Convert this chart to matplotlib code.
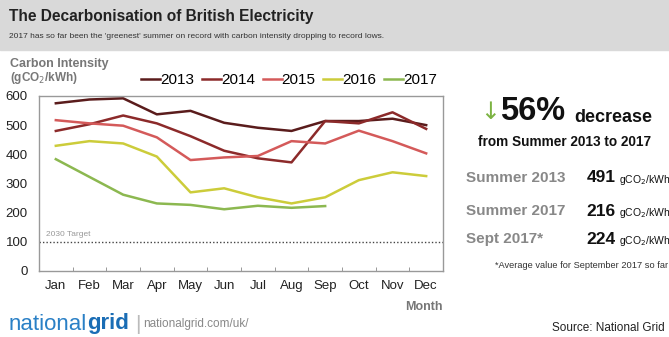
import numpy as np
import matplotlib.pyplot as plt

plt.rcParams['font.family'] = ['Liberation Sans', 'DejaVu Sans']

months = ['Jan', 'Feb', 'Mar', 'Apr', 'May', 'Jun', 'Jul', 'Aug', 'Sep', 'Oct', 'Nov', 'Dec']
years = ['2013', '2014', '2015', '2016', '2017']
y2013 = [575, 588, 592, 537, 549, 508, 491, 480, 514, 514, 522, 500]
y2014 = [480, 503, 533, 506, 462, 412, 386, 372, 514, 506, 544, 487]
y2015 = [517, 506, 498, 458, 380, 389, 394, 445, 437, 481, 445, 403]
y2016 = [429, 445, 437, 392, 269, 283, 252, 231, 252, 311, 338, 325]
y2017 = [383, 322, 261, 231, 226, 211, 223, 216, 222]
colors = ['#5a1c1c', '#8c2a2a', '#d45a5a', '#cccc3a', '#8cb850']
target = 100

stats_labels = ['Summer 2013', 'Summer 2017', 'Sept 2017*']
stats_values = ['491', '216', '224']

fig = plt.figure(figsize=(6.69, 3.37), dpi=100)
fig.patches.append(plt.Rectangle((0, 1 - 50 / 337), 1, 50 / 337, transform=fig.transFigure,
                                 color='#d9d9d9', zorder=0))
fig.text(0.014, 0.952, 'The Decarbonisation of British Electricity', fontsize=11.2, fontweight='bold',
         color='#222222', va='center')
fig.text(0.014, 0.893, "2017 has so far been the 'greenest' summer on record with carbon intensity dropping to record lows.",
         fontsize=6.0, color='#333333', va='center')

ax = fig.add_axes([39 / 669, 1 - 270.7 / 337, 404 / 669, 174.7 / 337])
x = np.arange(len(months))
series = [y2013, y2014, y2015, y2016, y2017]
for yr, vals, c in zip(years, series, colors):
    ax.plot(x[:len(vals)], vals, color=c, lw=1.8, label=yr)
ax.axhline(target, color='#444444', lw=1, ls=(0, (1, 1.5)))
ax.text(-0.3, target + 12, '2030 Target', fontsize=6, color='#999999', va='bottom')

ax.set_xlim(-0.5, 11.5)
ax.set_ylim(0, 600)
ax.set_xticks(x)
ax.set_xticklabels(months, fontsize=9.5, color='#222222')
ax.set_xticks(np.arange(-0.5, 12, 1), minor=True)
ax.tick_params(axis='x', which='major', length=0, pad=7)
ax.tick_params(axis='x', which='minor', length=3, direction='in', color='#888888')
ax.set_yticks(range(0, 601, 100))
ax.set_yticklabels([str(v) for v in range(0, 601, 100)], fontsize=9.5, color='#222222')
ax.tick_params(axis='y', length=0, pad=8)
for s in ax.spines.values():
    s.set_color('#999999')
    s.set_linewidth(1)

fig.text(0.015, 1 - 64 / 337, 'Carbon Intensity', fontsize=9, fontweight='bold', color='#777777', va='center')
fig.text(0.015, 1 - 78 / 337, '(gCO$_2$/kWh)', fontsize=8.5, fontweight='bold', color='#777777', va='center')
fig.legend(loc='center', bbox_to_anchor=(0.432, 1 - 80 / 337), ncol=5, frameon=False, fontsize=11,
           handlelength=1.25, handletextpad=0.0, columnspacing=0.5)
fig.text(443 / 669, 1 - 307 / 337, 'Month', fontsize=9, fontweight='bold', color='#777777',
         ha='right', va='center')

t1 = fig.text(0.013, 1 - 324 / 337, 'national', fontsize=16, color='#2a80c6', va='center')
fig.canvas.draw()
bb = t1.get_window_extent()
fig.text(bb.x1 / fig.bbox.width, 1 - 324 / 337, 'grid', fontsize=16, color='#1a6db5', fontweight='bold',
         va='center')
fig.text(0.202, 1 - 324 / 337, '|', fontsize=15, color='#bbbbbb', va='center')
fig.text(0.214, 1 - 324 / 337, 'nationalgrid.com/uk/', fontsize=8.5, color='#888888', va='center')
fig.text(0.994, 1 - 328 / 337, 'Source: National Grid', fontsize=8.5, color='#222222', va='center',
         ha='right')

# right panel
fig.text(0.748, 1 - 112 / 337, '\u2193', fontsize=17, color='#7cb342', va='center', ha='right',
         family=['DejaVu Sans'])
fig.text(0.748, 1 - 112 / 337, '56%', fontsize=23.5, fontweight='bold', color='#111111', va='center')
fig.text(0.859, 1 - 117 / 337, 'decrease', fontsize=13, fontweight='bold', color='#111111', va='center')
fig.text(0.844, 1 - 142 / 337, 'from Summer 2013 to 2017', fontsize=9.8, fontweight='bold', color='#111111',
         va='center', ha='center')
for i, (lab, val) in enumerate(zip(stats_labels, stats_values)):
    yy = 1 - [178, 211, 239][i] / 337
    fig.text(0.696, yy, lab, fontsize=11, fontweight='bold', color='#888888', va='center')
    fig.text(0.877, yy, val, fontsize=12.5, fontweight='bold', color='#111111', va='center')
    fig.text(0.925, yy - 0.006, 'gCO$_2$/kWh', fontsize=7.5, color='#111111', va='center')
fig.text(495 / 669, 1 - 265 / 337, '*Average value for September 2017 so far', fontsize=6.7, color='#333333',
         va='center')

fig.savefig('out.png', dpi=100)
